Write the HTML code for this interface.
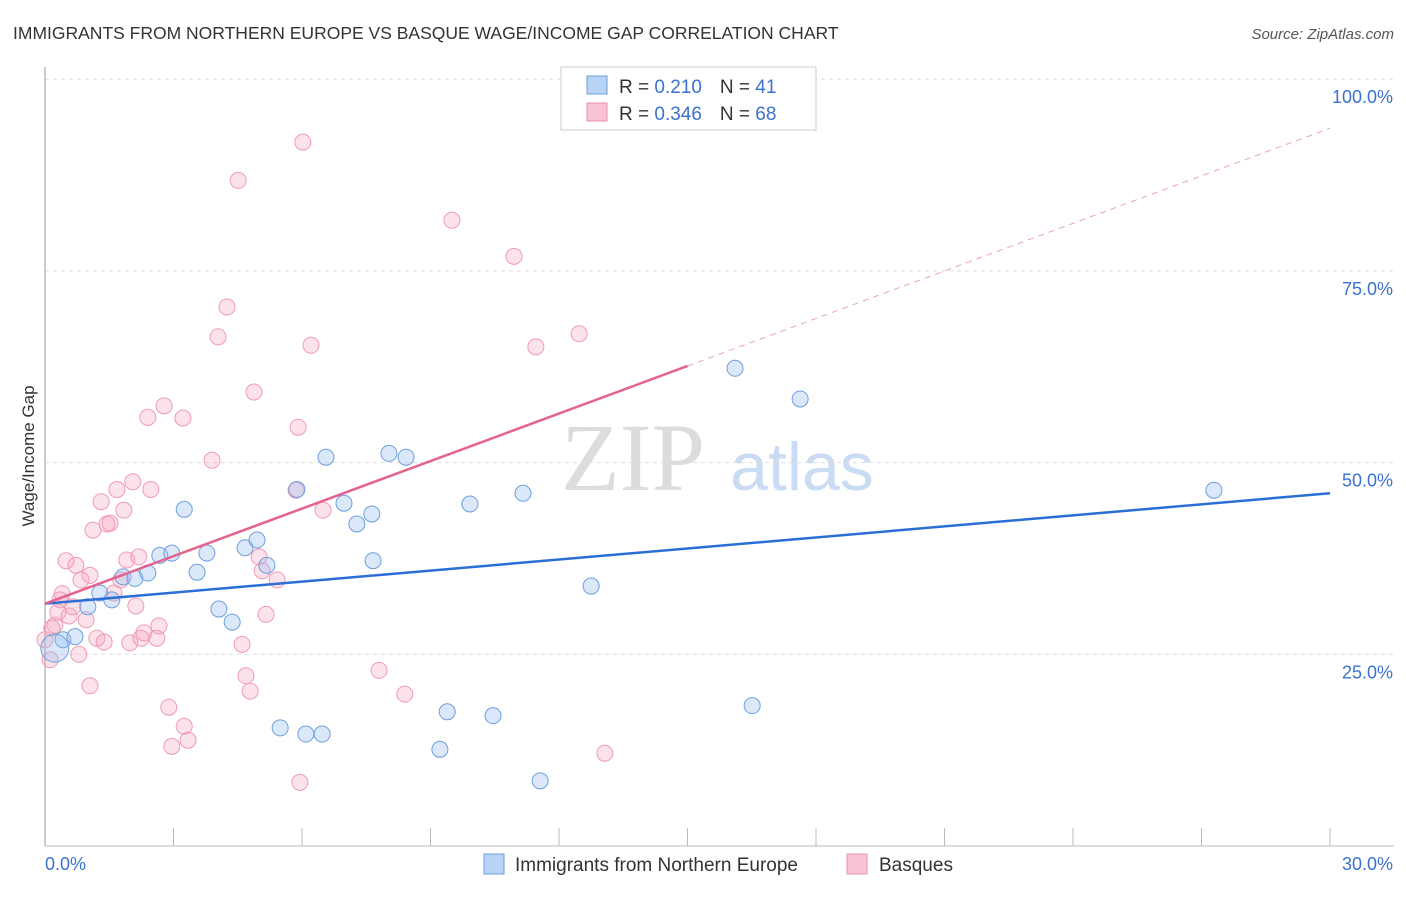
<!DOCTYPE html>
<html><head><meta charset="utf-8"><style>
body{margin:0;background:#fff;font-family:"Liberation Sans",sans-serif}
</style></head><body>
<svg id="chart" width="1406" height="892" xmlns="http://www.w3.org/2000/svg" font-family="Liberation Sans, sans-serif">
<text x="13" y="39" font-size="17.5" fill="#333">IMMIGRANTS FROM NORTHERN EUROPE VS BASQUE WAGE/INCOME GAP CORRELATION CHART</text>
<text x="1394" y="39" font-size="15" fill="#555" font-style="italic" text-anchor="end">Source: ZipAtlas.com</text>
<text transform="translate(34,456) rotate(-90)" font-size="17" fill="#333" text-anchor="middle">Wage/Income Gap</text>
<g>
<text x="633" y="490" font-family="Liberation Serif, serif" font-size="96" fill="#dcdcdc" text-anchor="middle">ZIP</text>
<text x="802" y="490" font-size="68" fill="#c9dcf3" text-anchor="middle">atlas</text>
</g>
<g id="grid"></g><g id="axes"></g><g id="marks"></g><g id="lines"></g>
<g>
<rect x="561" y="67" width="255" height="63" fill="#fff" stroke="#ccc"/>
<rect x="587" y="76" width="20" height="18" fill="#b8d3f4" stroke="#6e9fde"/>
<rect x="587" y="103" width="20" height="18" fill="#f9c5d5" stroke="#ea8fac"/>
<text x="619" y="93" font-size="19" fill="#333">R = <tspan fill="#3a72d0">0.210</tspan><tspan dx="18">N = </tspan><tspan fill="#3a72d0">41</tspan></text>
<text x="619" y="120" font-size="19" fill="#333">R = <tspan fill="#3a72d0">0.346</tspan><tspan dx="18">N = </tspan><tspan fill="#3a72d0">68</tspan></text>
</g>
<g>
<rect x="484" y="854" width="20" height="20" fill="#b8d3f4" stroke="#6e9fde"/>
<text x="515" y="871" font-size="19" fill="#333">Immigrants from Northern Europe</text>
<rect x="847" y="854" width="20" height="20" fill="#f9c5d5" stroke="#ea8fac"/>
<text x="879" y="871" font-size="19" fill="#333">Basques</text>
</g>
</svg>
<script>
const xTicks=[0,30];
const yTicks=[25,50,75,100];
const blueX=[0.42,0.70,1.00,1.28,1.56,1.82,2.10,2.40,2.68,2.96,3.25,3.55,3.78,4.06,4.37,4.67,4.95,5.18,5.49,5.88,6.09,6.47,6.56,6.98,7.28,7.63,7.66,8.03,8.43,9.22,9.39,9.92,10.46,11.16,11.56,12.75,16.11,16.51,17.63,27.29,0.23];
const blueY=[26.9,27.3,31.2,33.0,32.1,35.1,34.9,35.6,37.9,38.2,43.9,35.7,38.2,30.9,29.2,38.9,39.9,36.6,15.4,46.5,14.6,14.6,50.7,44.7,42.0,43.3,37.2,51.2,50.7,12.6,17.5,44.6,17.0,46.0,8.5,33.9,62.3,18.3,58.3,46.4,25.8];
const pinkX=[0.12,0.16,0.23,0.30,0.40,0.49,0.56,0.65,0.72,0.79,0.84,0.96,1.05,1.12,1.21,1.31,1.38,1.45,1.52,1.61,1.68,1.77,1.84,1.91,1.98,2.05,2.12,2.19,2.24,2.31,2.40,2.47,2.61,2.66,2.78,2.89,2.96,3.22,3.25,3.34,3.90,4.04,4.25,4.51,4.60,4.69,4.79,4.88,5.00,5.07,5.16,5.42,5.86,5.91,5.95,6.02,6.21,6.49,7.80,8.40,9.50,10.95,11.46,12.47,13.07,0.35,0.0,1.05];
const pinkY=[24.3,28.4,28.8,30.5,32.9,37.2,30.0,31.2,36.6,25.0,34.7,29.5,20.9,41.2,27.1,44.9,26.6,42.0,42.1,33.0,46.5,34.7,43.8,37.3,26.5,47.5,31.3,37.7,27.1,27.8,55.9,46.5,27.1,28.7,57.4,18.1,13.0,55.8,15.6,13.8,50.3,66.4,70.3,86.8,26.3,22.2,20.2,59.2,37.7,35.9,30.2,34.7,46.4,54.6,8.3,91.8,65.3,43.8,22.9,19.8,81.6,76.9,65.1,66.8,12.1,32.1,26.9,35.3];
const blueLine=[31.6,46.0];
const pinkLine=[31.6,93.6];
const pinkSolidEnd=15;
const X=v=>45+v/30*1285, Y=v=>846-v*7.668;
const NS="http://www.w3.org/2000/svg";
function mk(p,t,a){const e=document.createElementNS(NS,t);for(const k in a)e.setAttribute(k,a[k]);p.appendChild(e);return e;}
const grid=document.getElementById('grid'),axes=document.getElementById('axes'),marks=document.getElementById('marks'),lines=document.getElementById('lines');
yTicks.forEach(t=>{
 const g=mk(grid,'line',{x1:45,x2:1394,y1:Y(t),y2:Y(t),stroke:'#ddd','stroke-dasharray':'4,4'});
 
 
 const l=mk(axes,'text',{x:1393,y:Y(t)+24,'font-size':18,fill:'#3a72d0','text-anchor':'end'});
 l.textContent=t.toFixed(1)+'%';
 
 
});
mk(axes,'line',{x1:45,x2:45,y1:67,y2:846,stroke:'#999'});
mk(axes,'line',{x1:45,x2:1394,y1:846,y2:846,stroke:'#bbb'});
for(let i=1;i<=10;i++){const x=X(i*3);const tk=mk(axes,'line',{x1:x,x2:x,y1:828,y2:846,stroke:'#bbb'});
 
 }
xTicks.forEach((t,i)=>{const l=mk(axes,'text',{x:i?1393:45,y:870,'font-size':18,fill:'#3a72d0','text-anchor':i?'end':'start'});
 l.textContent=t.toFixed(1)+'%';
 
 });
pinkX.forEach((x,i)=>{const c=mk(marks,'circle',{cx:X(x),cy:Y(pinkY[i]),r:8,fill:'rgba(244,160,186,0.3)',stroke:'#ef9bb5','stroke-width':1});
 
 });
blueX.forEach((x,i)=>{const big=i===blueX.length-1;const c=mk(marks,'circle',{cx:X(x),cy:Y(blueY[i]),r:big?14:8,fill:'rgba(150,190,240,0.35)',stroke:'#6e9fde','stroke-width':1});
 
 });
const bl=mk(lines,'line',{x1:X(0),y1:Y(blueLine[0]),x2:X(30),y2:Y(blueLine[1]),stroke:'#2b6fd6','stroke-width':2.5});


const pm=pinkLine[0]+(pinkLine[1]-pinkLine[0])*pinkSolidEnd/30;
const pl=mk(lines,'line',{x1:X(0),y1:Y(pinkLine[0]),x2:X(pinkSolidEnd),y2:Y(pm),stroke:'#e5648f','stroke-width':2.5});


const pd=mk(lines,'line',{x1:X(pinkSolidEnd),y1:Y(pm),x2:X(30),y2:Y(pinkLine[1]),stroke:'#eaa3ba','stroke-width':1,'stroke-dasharray':'6,5'});


</script>
</body></html>
